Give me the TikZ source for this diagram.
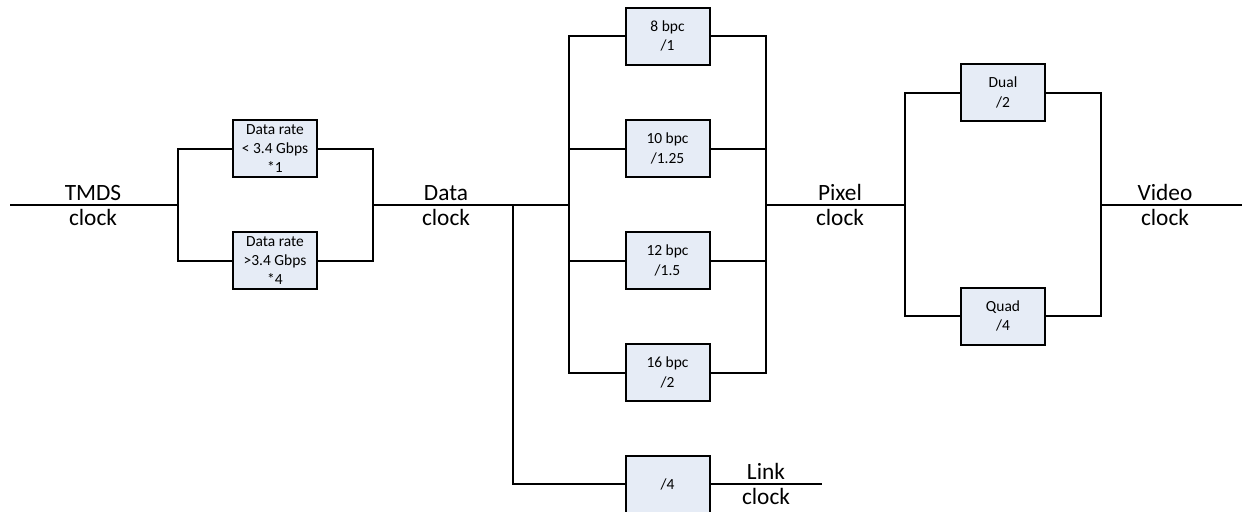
\documentclass[tikz,border=0pt]{standalone}
\usepackage{fontspec}
\setmainfont{Carlito}
\usetikzlibrary{positioning}
\definecolor{boxfill}{RGB}{230,236,246}

\begin{document}
\begin{tikzpicture}[x=0.75pt,y=-0.75pt,line width=1.5pt,
  divbox/.style={draw=black,fill=boxfill,line width=1.5pt,minimum width=63pt,minimum height=42.75pt,inner sep=0pt,align=center,font=\fontsize{11.6}{14.5}\selectfont},
  clklabel/.style={inner sep=2.5pt,font=\fontsize{17.5}{21}\selectfont}]
\useasboundingbox (0,0) rectangle (1244,511);
\coordinate (tmdsin) at (10,205);
\coordinate (split1) at (178,205);
\coordinate (join1) at (373,205);
\coordinate (datajn) at (513,205);
\coordinate (split2) at (569,205);
\coordinate (join2) at (766,205);
\coordinate (split3) at (905,205);
\coordinate (join3) at (1101,205);
\coordinate (videoout) at (1242,205);
\coordinate (linkout) at (822,484);
\node[divbox] (low) at (275,148.5) {Data rate\\< 3.4 Gbps\\*1};
\node[divbox] (high) at (275,260.5) {Data rate\\>3.4 Gbps\\*4};
\node[divbox] (b8) at (667.5,36) {8 bpc\\/1};
\node[divbox] (b10) at (667.5,148.5) {10 bpc\\/1.25};
\node[divbox] (b12) at (667.5,260.5) {12 bpc\\/1.5};
\node[divbox] (b16) at (667.5,372.5) {16 bpc\\/2};
\node[divbox] (link) at (667.5,484) {/4};
\node[divbox] (dual) at (1003,92.5) {Dual\\/2};
\node[divbox] (quad) at (1003,316) {Quad\\/4};
\node[clklabel,above] (tmdstop) at (93,205) {TMDS};
\node[clklabel,below] (tmdsbot) at (93,205) {clock};
\node[clklabel,above] (datatop) at (446,205) {Data};
\node[clklabel,below] (databot) at (446,205) {clock};
\node[clklabel,above] (pixeltop) at (840,205) {Pixel};
\node[clklabel,below] (pixelbot) at (840,205) {clock};
\node[clklabel,above] (videotop) at (1165,205) {Video};
\node[clklabel,below] (videobot) at (1165,205) {clock};
\node[clklabel,above] (linktop) at (766,484) {Link};
\node[clklabel,below] (linkbot) at (766,484) {clock};
\draw (tmdsin) -- (split1);
\draw (split1) |- (low.west);
\draw (split1) |- (high.west);
\draw (low.east) -| (join1);
\draw (high.east) -| (join1);
\draw (join1) -- (split2);
\foreach \b in {b8,b10,b12,b16} {
  \draw (split2) |- (\b.west);
  \draw (\b.east) -| (join2);
}
\draw (datajn) |- (link.west);
\draw (link.east) -- (linkout);
\draw (join2) -- (split3);
\draw (split3) |- (dual.west);
\draw (split3) |- (quad.west);
\draw (dual.east) -| (join3);
\draw (quad.east) -| (join3);
\draw (join3) -- (videoout);
\end{tikzpicture}
\end{document}
